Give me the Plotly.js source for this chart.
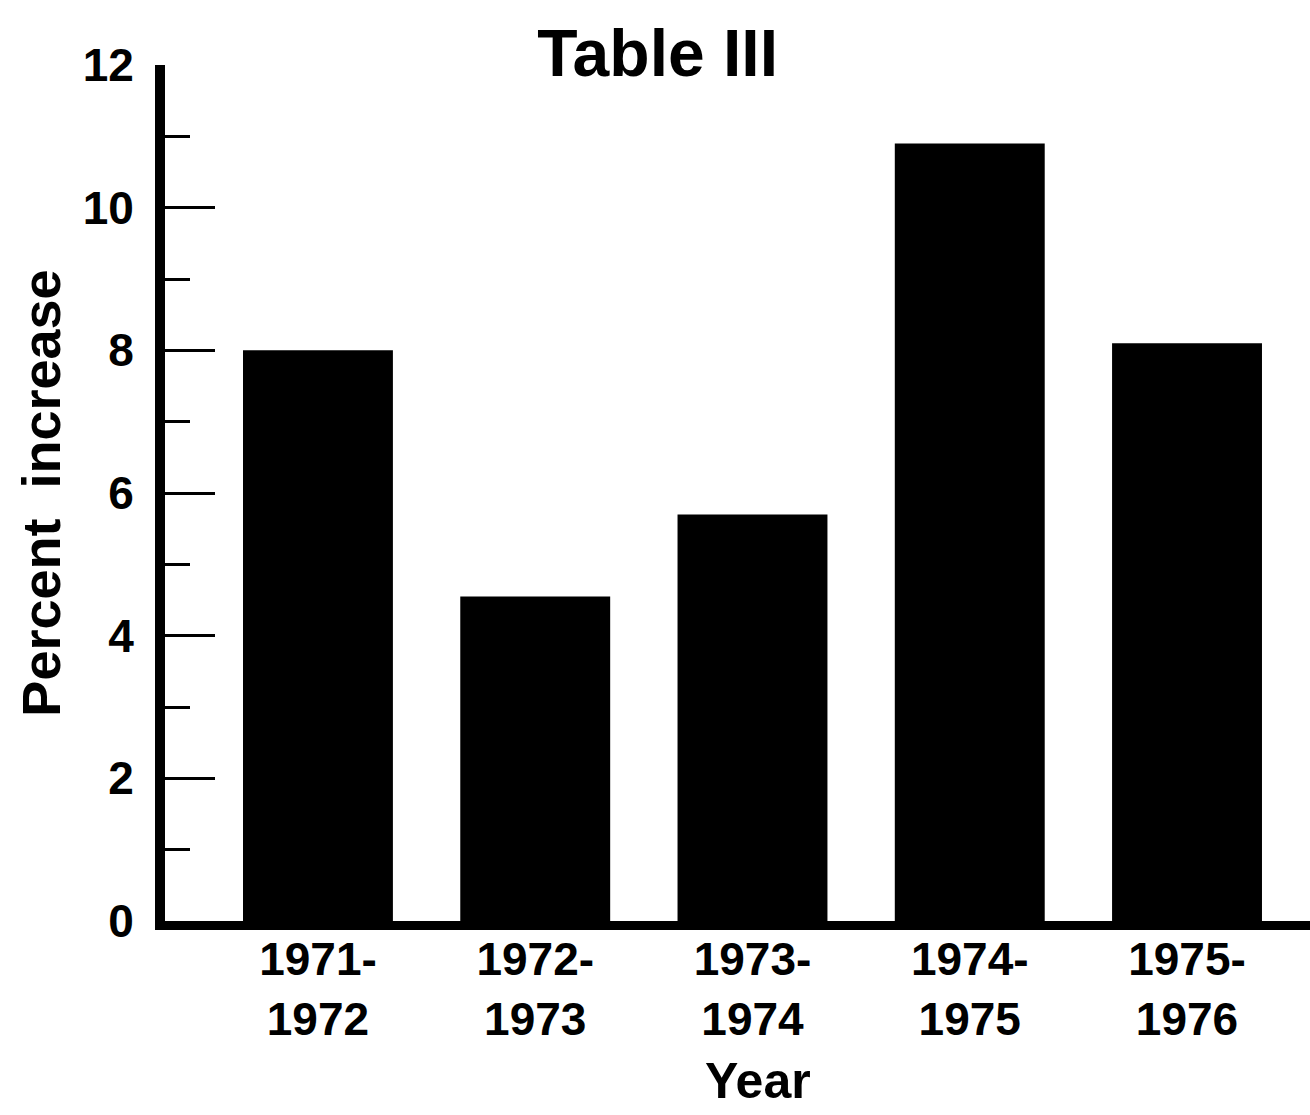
<!DOCTYPE html>
<html>
<head>
<meta charset="utf-8">
<script src="https://cdn.plot.ly/plotly-3.0.1.min.js"></script>
<style>html,body{margin:0;padding:0;background:#fff;}#chart{width:1310px;height:1115px;}</style>
</head>
<body>
<div id="chart"></div>
<script>
const categories = ["1971-<br>1972", "1972-<br>1973", "1973-<br>1974", "1974-<br>1975", "1975-<br>1976"];
const percentIncrease = [8.0, 4.55, 5.7, 10.9, 8.1];
const yTickVals = [0, 2, 4, 6, 8, 10, 12];
const yTickText = ["0", "2", "4", "6", "8", "10", "12"];

const FONT = "Liberation Sans, Arial, Helvetica, sans-serif";

const data = [{
  type: "bar",
  x: categories,
  y: percentIncrease,
  marker: {color: "#000000", line: {width: 0}},
  hoverinfo: "x+y"
}];

const layout = {
  width: 1310,
  height: 1115,
  paper_bgcolor: "#ffffff",
  plot_bgcolor: "#ffffff",
  margin: {l: 165, r: 0, t: 65, b: 194, pad: 0},
  showlegend: false,
  bargap: 0.31,
  font: {family: FONT, color: "#000000", weight: "bold"},
  title: {
    text: "<b>Table III</b>",
    font: {family: FONT, size: 66, color: "#000"},
    x: 0.502, xref: "container", xanchor: "center",
    y: 0.953, yref: "container", yanchor: "middle"
  },
  xaxis: {
    type: "category",
    range: [-0.704, 4.566],
    showline: true, linecolor: "#000", linewidth: 9,
    ticks: "", showgrid: false, zeroline: false,
    ticklabelstandoff: -10,
    tickfont: {family: FONT, size: 46, color: "#000", weight: "bold"},
    fixedrange: true
  },
  yaxis: {
    range: [0, 12],
    showline: true, linecolor: "#000", linewidth: 10,
    ticks: "inside", ticklen: 50, tickwidth: 3, tickcolor: "#000",
    tickvals: yTickVals, ticktext: yTickText,
    minor: {dtick: 1, tick0: 0, ticks: "inside", ticklen: 25, tickwidth: 3, tickcolor: "#000", showgrid: false},
    showgrid: false, zeroline: false,
    ticklabelstandoff: 12,
    tickfont: {family: FONT, size: 46, color: "#000", weight: "bold"},
    title: {text: "<b>Percent  increase</b>", font: {family: FONT, size: 54, color: "#000"}, standoff: 9},
    fixedrange: true
  },
  annotations: [{
    text: "<b>Year</b>",
    xref: "paper", yref: "paper",
    x: 0.518, y: -0.222,
    xanchor: "center", yanchor: "bottom",
    showarrow: false,
    font: {family: FONT, size: 50, color: "#000"}
  }]
};

Plotly.newPlot("chart", data, layout, {displayModeBar: false, staticPlot: true});
</script>
</body>
</html>
